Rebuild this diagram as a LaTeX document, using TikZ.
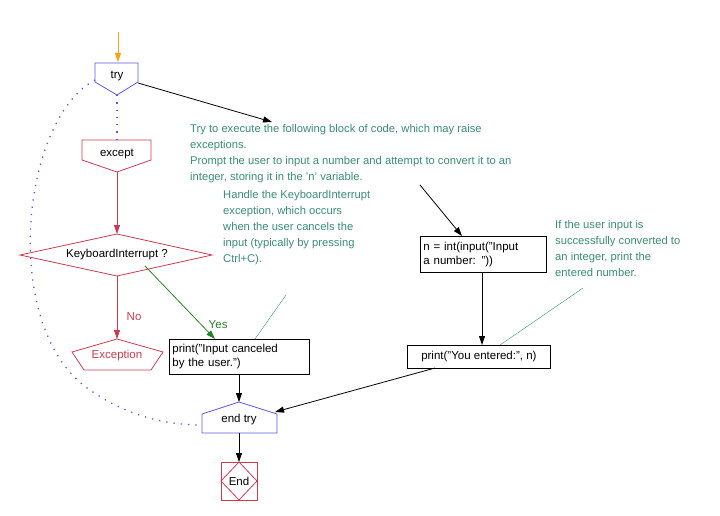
\documentclass[tikz,border=0pt]{standalone}
\usepackage{fontspec}
\setmainfont{Liberation Sans}
\usetikzlibrary{arrows.meta}
\definecolor{cmt}{RGB}{60,140,115}
\definecolor{blu}{RGB}{90,90,220}
\definecolor{rd}{RGB}{200,60,80}
\definecolor{grn}{RGB}{40,130,40}
\definecolor{org}{RGB}{245,160,30}
\begin{document}
\begin{tikzpicture}[x=1pt,y=-1pt,
  every node/.style={font=\fontsize{11.5}{14}\selectfont},
  box/.style={draw,thick,inner sep=0pt},
  cmtext/.style={text=cmt,align=left,anchor=north west,inner sep=0pt,font=\fontsize{11.2}{16}\selectfont},
  arr/.style={-{Triangle[length=9pt,width=6pt]},thick},
  dots/.style={blu,line width=1.3pt,dash pattern=on 1.3pt off 6pt},
  lead/.style={cmt,thin}]
\useasboundingbox (0,0) rectangle (720,516);
% try
\draw[blu,thick] (95,63) -- (138,63) -- (138,82) -- (117,95) -- (95,82) -- cycle;
\node (try) at (117,76) {try};
\coordinate (tryb) at (117,95);
\coordinate (tryl) at (95,80);
\coordinate (tryr) at (138,83);
\coordinate (start) at (118,32);
\draw[arr,org] (start) -- (118,62);
% except
\draw[rd,thick] (82,140) -- (151,140) -- (151,160) -- (117,172) -- (82,160) -- cycle;
\node (exc) at (117,154) {except};
\coordinate (exct) at (117,140);
\coordinate (excb) at (117,172);
\draw[dots] (tryb) -- (exct);
% diamond
\draw[rd,thick] (117,234) -- (212,255) -- (117,276) -- (20,255) -- cycle;
\node (kb) at (117,255) {KeyboardInterrupt ?};
\coordinate (kbt) at (117,234);
\coordinate (kbb) at (117,276);
\coordinate (kby) at (145,266);
\draw[arr,rd] (excb) -- (kbt);
% Exception
\draw[rd,thick] (117,339) -- (163,352) -- (151,370) -- (84,370) -- (72,352) -- cycle;
\node[text=rd] (ex) at (117,356) {Exception};
\coordinate (ext) at (117,339);
\draw[arr,rd] (kbb) -- node[right=6pt,pos=0.65,text=rd]{No} (ext);
% print1
\node[box,minimum width=140pt,minimum height=35pt,text width=134pt,align=left,anchor=north west,inner xsep=3pt] (p1) at (169,339) {print("Input canceled\\by the user.")};
\coordinate (p1t) at (215,339);
\draw[arr,grn] (kby) -- node[right=4pt,pos=0.8,text=grn]{Yes} (p1t);
% end try
\draw[blu,thick] (239,402) -- (277,414) -- (277,433) -- (202,433) -- (202,414) -- cycle;
\node (et) at (239,420) {end try};
\coordinate (ett) at (239,402);
\coordinate (etr) at (275,412);
\coordinate (etl) at (202,425);
\draw[arr] (p1.south -| ett) -- (ett);
% End
\draw[rd,thick] (221,462) rectangle (257,500);
\draw[rd,thick] (239,462) -- (257,481) -- (239,500) -- (221,481) -- cycle;
\node (end) at (239,481) {End};
\draw[arr] (239,433) -- (239,462);
% dotted curve
\draw[dots] (tryl) .. controls (20,120) and (0,330) .. (90,390) .. controls (130,418) and (170,425) .. (etl);
% comment 1
\node[cmtext] (c1) at (190,124) {Try to execute the following block of code, which may raise\\exceptions.\\Prompt the user to input a number and attempt to convert it to an\\integer, storing it in the 'n' variable.};
\coordinate (c1a) at (272,122);
\draw[arr] (tryr) -- (c1a);
% n box
\node[box,minimum width=125pt,minimum height=36pt,text width=120pt,align=left,anchor=north west,inner xsep=3pt] (nb) at (420,236) {n = int(input("Input\\a number: "))};
\coordinate (c1b) at (420,185);
\draw[arr] (c1b) -- (462,236);
% print2
\node[box,minimum width=143pt,minimum height=23pt,anchor=north west] (p2) at (407,345) {print("You entered:", n)};
\draw[arr] (482,272) -- (482,345);
\draw[arr] (435,368) -- (etr);
% comment 2
\node[cmtext] (c2) at (223,190) {Handle the KeyboardInterrupt\\exception, which occurs\\when the user cancels the\\input (typically by pressing\\Ctrl+C).};
\draw[lead] (286,295) -- (255,339);
% comment 3
\node[cmtext] (c3) at (555,220) {If the user input is\\successfully converted to\\an integer, print the\\entered number.};
\draw[lead] (583,288) -- (500,345);
\end{tikzpicture}
\end{document}
